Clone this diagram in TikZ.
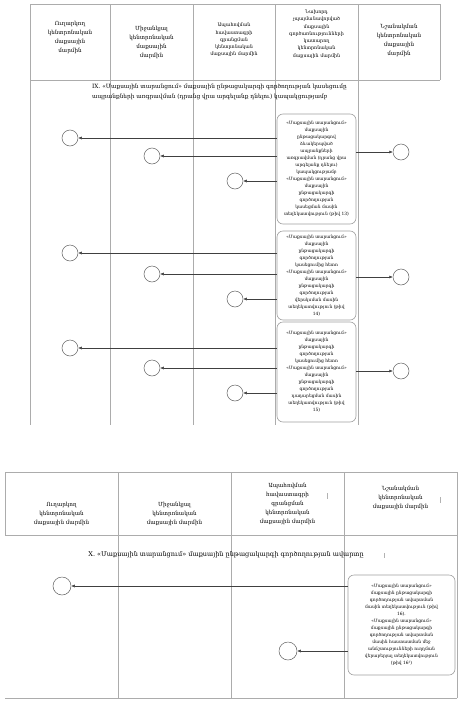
\documentclass[tikz,border=0pt]{standalone}
\usepackage{fontspec}
\setmainfont{DejaVu Serif}
\usetikzlibrary{arrows.meta}
\begin{document}
\begin{tikzpicture}[x=1pt,y=-1pt,
  lane/.style={draw=gray!65,line width=0.6pt},
  hdr/.style={align=center,font=\fontsize{5.6}{9}\selectfont,inner sep=0pt},
  hdrs/.style={align=center,font=\fontsize{4.8}{7.3}\selectfont,inner sep=0pt},
  evt/.style={circle,draw=gray!75!black,line width=0.5pt,minimum size=16pt,inner sep=0pt},
  msg/.style={rounded corners=6pt,draw=gray!75,line width=0.6pt,align=center,font=\fontsize{4.4}{7}\selectfont,inner sep=1pt},
  arr/.style={draw=black!75,line width=0.5pt,-{Latex[length=3.5pt,width=3pt]}},
  ttl/.style={font=\fontsize{5.8}{10}\selectfont,align=left,inner sep=0pt},
  scanmark/.style={draw=gray!60,line width=0.6pt}]
\useasboundingbox (0,0) rectangle (465,704);
% ---------- top table ----------
\draw[lane] (30,4) -- (440,4);
\draw[lane] (30,80) -- (440,80);
\draw[lane] (440,4) -- (440,80);
\foreach \x in {30,110,193,275,358} \draw[lane] (\x,4) -- (\x,425);
\node[hdr] (h1) at (70,37) {Ուղարկող\\կենտրոնական\\մաքսային\\մարմին};
\node[hdr] (h2) at (151.5,42) {Միջանկյալ\\կենտրոնական\\մաքսային\\մարմին};
\node[hdrs] (h3) at (234,40) {Ապահովման\\հավաստագրի\\գրանցման\\կենտրոնական\\մաքսային մարմին};
\node[hdrs] (h4) at (316.5,34) {Նախորդ\\չպայմանավորված\\մաքսային\\գործառնությունների\\կատարող\\կենտրոնական\\մաքսային մարմին};
\node[hdr] (h5) at (399,40) {Նշանակման\\կենտրոնական\\մաքսային\\մարմին};
\node[ttl,anchor=west] (t9) at (92,92) {IX. «Մաքսային տարանցում» մաքսային ընթացակարգի գործողության կասեցումը\\ապրանքների առգրավման (դրանց վրա արգելանք դնելու) կապակցությամբ};
% boxes
\node[msg,minimum width=79pt,minimum height=110pt,text width=76pt] (b1) at (316.5,169) {«Մաքսային տարանցում»\\մաքսային\\ընթացակարգով\\ձևակերպված\\ապրանքների\\առգրավման (դրանց վրա\\արգելանք դնելու)\\կապակցությամբ\\«Մաքսային տարանցում»\\մաքսային\\ընթացակարգի\\գործողության\\կասեցման մասին\\տեղեկատվություն (թիվ 13)};
\node[msg,minimum width=79pt,minimum height=89pt,text width=76pt] (b2) at (316.5,275.5) {«Մաքսային տարանցում»\\մաքսային\\ընթացակարգի\\գործողության\\կասեցումից հետո\\«Մաքսային տարանցում»\\մաքսային\\ընթացակարգի\\գործողության\\վերսկսման մասին\\տեղեկատվություն (թիվ\\14)};
\node[msg,minimum width=79pt,minimum height=100pt,text width=76pt] (b3) at (316.5,372) {«Մաքսային տարանցում»\\մաքսային\\ընթացակարգի\\գործողության\\կասեցումից հետո\\«Մաքսային տարանցում»\\մաքսային\\ընթացակարգի\\գործողության\\դադարեցման մասին\\տեղեկատվություն (թիվ\\15)};
% events
\node[evt] (c11) at (70,138) {};
\node[evt] (c12) at (152,156) {};
\node[evt] (c13) at (235,181) {};
\node[evt] (r1) at (401,152) {};
\node[evt] (c21) at (70,253) {};
\node[evt] (c22) at (152,274) {};
\node[evt] (c23) at (235,299) {};
\node[evt] (r2) at (401,277) {};
\node[evt] (c31) at (70,348) {};
\node[evt] (c32) at (152,368) {};
\node[evt] (c33) at (235,393) {};
\node[evt] (r3) at (401,371) {};
\foreach \b/\a/\c/\d/\r in {b1/c11/c12/c13/r1,b2/c21/c22/c23/r2,b3/c31/c32/c33/r3}{
  \draw[arr] (\b.west |- \a) -- (\a);
  \draw[arr] (\b.west |- \c) -- (\c);
  \draw[arr] (\b.west |- \d) -- (\d);
  \draw[arr] (\b.east |- \r) -- (\r);
}
% ---------- bottom table ----------
\draw[lane] (5,472) -- (457,472);
\draw[lane] (5,535) -- (457,535);
\draw[lane] (5,698) -- (457,698);
\draw[lane] (5,472) -- (5,535);
\draw[lane] (457,472) -- (457,698);
\foreach \x in {118,231,344} \draw[lane] (\x,472) -- (\x,698);
\node[hdr] (g1) at (61.5,514) {Ուղարկող\\կենտրոնական\\մաքսային մարմին};
\node[hdr] (g2) at (174.5,514) {Միջանկյալ\\կենտրոնական\\մաքսային մարմին};
\node[hdr] (g3) at (287.5,504) {Ապահովման\\հավաստագրի\\գրանցման\\կենտրոնական\\մաքսային մարմին};
\node[hdr] (g4) at (400.5,498) {Նշանակման\\կենտրոնական\\մաքսային մարմին};
\draw[scanmark] (327,493) -- (327,499);
\draw[scanmark] (440,497) -- (440,503);
\node[ttl,font=\fontsize{6.5}{10}\selectfont] (t10) at (226,555) {X. «Մաքսային տարանցում» մաքսային ընթացակարգի գործողության ավարտը};
\draw[scanmark] (384,553) -- (384,558);
\node[msg,minimum width=107pt,minimum height=100pt,text width=104pt] (b4) at (401.5,625) {«Մաքսային տարանցում»\\մաքսային ընթացակարգի\\գործողության ավարտման\\մասին տեղեկատվություն (թիվ\\16).\\«Մաքսային տարանցում»\\մաքսային ընթացակարգի\\գործողության ավարտման\\մասին հաստատման մեջ\\անճշտությունների ուղղման\\վերաբերյալ տեղեկատվություն\\(թիվ 16¹)};
\node[evt,minimum size=18pt] (d1) at (62,586) {};
\node[evt,minimum size=18pt] (d2) at (288,651) {};
\draw[arr] (b4.west |- d1) -- (d1);
\draw[arr] (b4.west |- d2) -- (d2);
\end{tikzpicture}
\end{document}
